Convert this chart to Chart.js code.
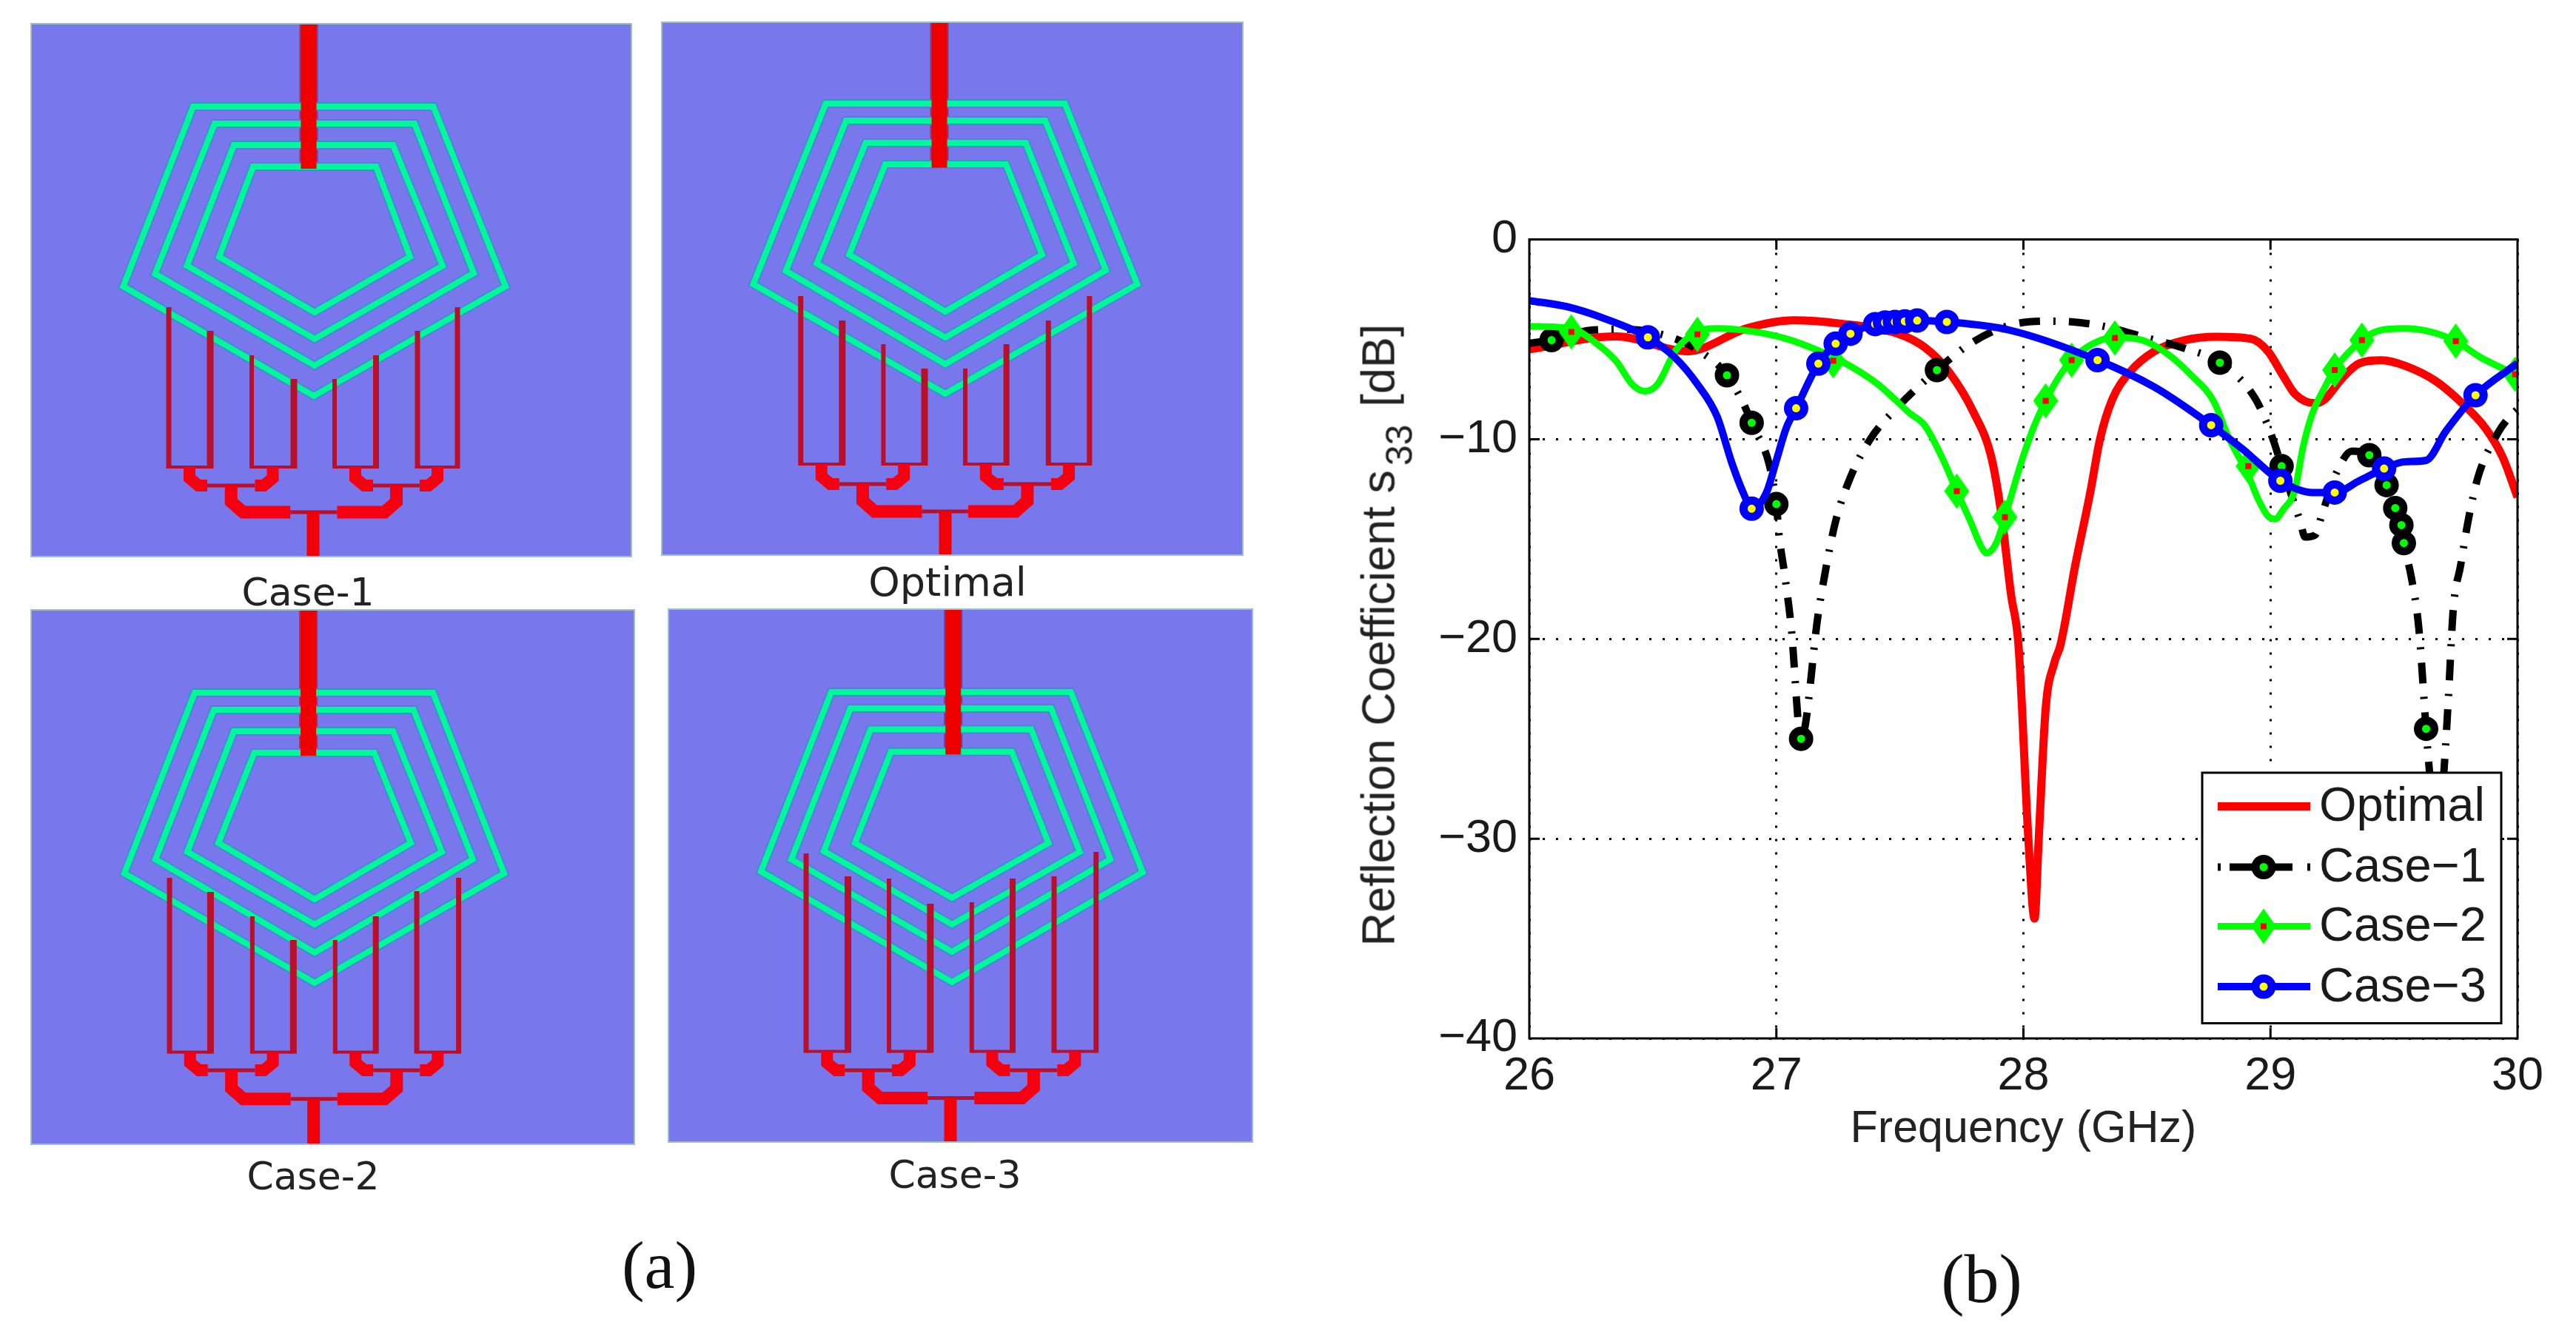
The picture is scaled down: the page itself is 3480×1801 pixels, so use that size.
<!DOCTYPE html>
<html>
<head>
<meta charset="utf-8">
<title>Reflection Coefficient s33</title>
<script src="https://cdn.jsdelivr.net/npm/chart.js@4/dist/chart.umd.min.js"></script>
<style>
  html, body { margin: 0; padding: 0; background: #fff; width: 3480px; height: 1801px; overflow: hidden; }
  .panel { position: absolute; background: #7878EC; box-shadow: 0 0 0 2px #9cc0c6; filter: blur(0.7px); }
  .panel canvas { display: block; }
  #plotBox { position: absolute; left: 1800px; top: 250px; width: 1680px; height: 1313px; filter: blur(0.7px); }
  .caption { position: absolute; transform: translateX(-50%); font-family: "DejaVu Sans", sans-serif; color: #222; white-space: nowrap; line-height: 1; filter: blur(0.6px); }
  .figlabel { position: absolute; transform: translateX(-50%); font-family: "Liberation Serif", serif; color: #111; white-space: nowrap; line-height: 1; filter: blur(0.6px); }
  #yTitle { position: absolute; left: 1862px; top: 858px; transform: translate(-50%, -50%) rotate(-90deg); font: 63px/1 "Liberation Sans", sans-serif; color: #222; white-space: nowrap; filter: blur(0.6px); }
  #yTitle span { font-size: 50px; position: relative; top: 24px; margin-left: 6px; margin-right: 24px; }
</style>
</head>
<body>
<div id="plotBox"><canvas id="grafico" width="1680" height="1313"></canvas></div>
<div id="yTitle">Reflection Coefficient s<span>33</span>[dB]</div>
<script>
// ---- reflection plot: values ----
const freqTicks = [26, 27, 28, 29, 30];
const dbTicks = [0, -10, -20, -30, -40];
const legendLabels = ['Optimal', 'Case\u22121', 'Case\u22122', 'Case\u22123'];

const freqOptimal = [26, 26.35, 26.64, 26.88, 27.07, 27.25, 27.5, 27.6, 27.7, 27.8, 27.87, 27.91, 27.95, 27.98, 28.02, 28.045, 28.062, 28.09, 28.125, 28.15, 28.21, 28.27, 28.31, 28.36, 28.43, 28.53, 28.65, 28.78, 28.92, 28.99, 29.05, 29.1, 29.18, 29.22, 29.29, 29.36, 29.45, 29.55, 29.67, 29.78, 29.87, 29.94, 30];
const dbOptimal = [-5.5, -4.85, -5.6, -4.45, -4.05, -4.2, -4.75, -5.4, -6.65, -8.7, -10.9, -13.7, -17.8, -20.3, -30, -34, -30, -23.5, -21.2, -20.3, -16.3, -12.7, -10, -8, -6.65, -5.6, -5.05, -4.87, -4.97, -5.6, -6.8, -7.75, -8.2, -8, -6.95, -6.2, -6.05, -6.35, -7.1, -8.25, -9.45, -10.9, -12.9];

const freqCase1 = [26, 26.09, 26.26, 26.4, 26.59, 26.69, 26.8, 26.9, 27, 27.01, 27.035, 27.06, 27.1, 27.17, 27.2, 27.24, 27.3, 27.38, 27.49, 27.65, 27.78, 27.94, 28.12, 28.31, 28.49, 28.66, 28.795, 28.94, 29.01, 29.045, 29.12, 29.14, 29.18, 29.21, 29.27, 29.33, 29.4, 29.47, 29.505, 29.53, 29.54, 29.57, 29.6, 29.63, 29.65, 29.67, 29.69, 29.705, 29.72, 29.74, 29.77, 29.8, 29.84, 29.92, 29.97, 30];
const dbCase1 = [-5.2, -5.04, -4.53, -4.5, -4.97, -5.6, -6.8, -9.18, -13.25, -14.7, -16.9, -19.4, -25, -18.7, -16.5, -14.1, -11.9, -10, -8.4, -6.54, -5.26, -4.31, -4.09, -4.31, -4.9, -5.48, -6.17, -8, -10, -11.35, -14.1, -14.9, -14.8, -13.7, -11.6, -10.6, -10.8, -12.3, -13.45, -14.3, -15.2, -16.9, -19.4, -24.5, -27.5, -29, -28.5, -26.1, -23, -18.5, -16.3, -14.1, -11.9, -9.7, -8.85, -8.5];
const markFreqCase1 = [26.09, 26.8, 26.9, 27, 27.1, 27.65, 28.795, 29.045, 29.4, 29.47, 29.505, 29.53, 29.54, 29.63];
const markDbCase1 = [-5.04, -6.8, -9.18, -13.25, -25, -6.54, -6.17, -11.35, -10.8, -12.3, -13.45, -14.3, -15.2, -24.5];

const freqCase2 = [26, 26.17, 26.27, 26.35, 26.42, 26.47, 26.52, 26.59, 26.67, 26.76, 26.9, 27.04, 27.17, 27.26, 27.41, 27.54, 27.6, 27.67, 27.73, 27.785, 27.83, 27.85, 27.89, 27.925, 27.99, 28.04, 28.09, 28.14, 28.195, 28.275, 28.37, 28.48, 28.58, 28.68, 28.77, 28.83, 28.91, 28.95, 28.99, 29.02, 29.05, 29.1, 29.13, 29.17, 29.22, 29.26, 29.37, 29.44, 29.54, 29.64, 29.75, 29.85, 30];
const dbCase2 = [-4.35, -4.46, -5.19, -6.07, -7.3, -7.6, -7.24, -5.6, -4.68, -4.46, -4.6, -4.97, -5.56, -6.07, -7.24, -8.7, -9.3, -10.9, -12.6, -14.1, -15.4, -15.7, -15.2, -13.9, -11.2, -9.45, -8.08, -6.95, -6.04, -5.26, -4.9, -5.04, -5.7, -6.8, -8.1, -9.9, -11.8, -13, -13.85, -14, -13.55, -12.5, -10.5, -8.7, -7.4, -6.5, -5.04, -4.56, -4.46, -4.6, -5.09, -5.9, -6.8];
const markFreqCase2 = [26.17, 26.68, 27.23, 27.73, 27.925, 28.09, 28.195, 28.37, 28.91, 29.26, 29.37, 29.75, 29.99];
const markDbCase2 = [-4.63, -4.75, -6.07, -12.6, -13.9, -8.08, -6.04, -4.93, -11.35, -6.54, -5.04, -5.09, -6.75];

const freqCase3 = [26, 26.15, 26.3, 26.48, 26.59, 26.68, 26.76, 26.82, 26.87, 26.9, 26.96, 27, 27.04, 27.08, 27.17, 27.24, 27.3, 27.4, 27.48, 27.57, 27.69, 27.94, 28.3, 28.53, 28.76, 28.885, 29.04, 29.17, 29.26, 29.36, 29.46, 29.545, 29.63, 29.71, 29.83, 30];
const dbCase3 = [-3.06, -3.36, -3.94, -4.9, -5.92, -7.24, -8.86, -11.2, -12.8, -13.48, -12.67, -11.06, -9.44, -8.45, -6.22, -5.22, -4.72, -4.24, -4.13, -4.06, -4.13, -4.53, -6.04, -7.39, -9.3, -10.47, -12.08, -12.67, -12.67, -12.08, -11.47, -11.13, -11.06, -9.6, -7.8, -6.2];
const markFreqCase3 = [26.48, 26.9, 27.08, 27.17, 27.24, 27.3, 27.4, 27.44, 27.48, 27.52, 27.57, 27.69, 28.3, 28.76, 29.04, 29.26, 29.46, 29.83];
const markDbCase3 = [-4.9, -13.48, -8.45, -6.22, -5.22, -4.72, -4.24, -4.16, -4.13, -4.1, -4.06, -4.13, -6.04, -9.3, -12.08, -12.67, -11.47, -7.8];

// ---- antenna layouts, in page pixels of each panel ----
const ringsCase1 = [
  [[261,144],[585.5,144],[683,387],[424,535],[166.5,387]],
  [[290,167],[560,167],[640,369],[425,494],[209.5,370]],
  [[316,196],[531,196],[598,359],[425,458],[252.6,359]],
  [[342,225],[508,225],[554,347],[425,422],[296,347]]
];
const ringsOptimal = [
  [[1115.6,140],[1438.5,140],[1536.4,384],[1277,532],[1017.6,384]],
  [[1143,163],[1412,163],[1494,365],[1277,492],[1061.6,366]],
  [[1169.6,193],[1385.6,193],[1450.7,356],[1277,456],[1103.4,356]],
  [[1196,222],[1359,222],[1407.8,344],[1277,421],[1147.3,344]]
];
const ringsCase2 = [
  [[263,936],[585,936],[681,1180],[425,1328],[168,1180]],
  [[289,959],[558.7,959],[638.7,1161],[425,1287],[210,1161]],
  [[316,988],[531,988],[597,1151],[425,1249],[253,1151]],
  [[343.6,1017],[505.5,1017],[555,1139],[425,1215],[295,1139]]
];
const ringsCase3 = [
  [[1123,935],[1446.6,935],[1543.7,1178.6],[1286,1327],[1028,1177.5]],
  [[1148.8,957],[1420,957],[1500,1161],[1286,1286],[1069,1161]],
  [[1176,985.5],[1393,985.5],[1458.7,1151],[1286,1249],[1113,1150]],
  [[1203.6,1015.7],[1367,1015.7],[1416.5,1139],[1286,1213],[1155,1139]]
];

const panels = [
  { id: 'Case-1', left: 43, right: 852, top: 33, bottom: 751, rings: ringsCase1,
    lineX: [228,284,340,397,452,508,564,618], lineTop: [415,447,480,512,512,480,447,415],
    yA: 631, yB: 656, yC: 692, cx: 423, topX: 417, topEnd: 228,
    captionX: 416, captionTop: 774, captionSize: 52 },
  { id: 'Optimal', left: 895, right: 1678, top: 31, bottom: 749, rings: ringsOptimal,
    lineX: [1081.7,1137.8,1193.4,1249,1304,1359.6,1416.3,1471.8], lineTop: [400,433,465,498,498,465,433,400],
    yA: 627, yB: 654, yC: 691, cx: 1277, topX: 1269, topEnd: 226.6,
    captionX: 1280, captionTop: 760, captionSize: 54 },
  { id: 'Case-2', left: 43, right: 856, top: 825, bottom: 1545, rings: ringsCase2,
    lineX: [229,284.4,340.9,396.3,452.8,507.7,563,619.6], lineTop: [1186,1205,1238,1270,1270,1238,1204,1186],
    yA: 1421.6, yB: 1446, yC: 1484.7, cx: 423.7, topX: 416.6, topEnd: 1021,
    captionX: 423, captionTop: 1563, captionSize: 52 },
  { id: 'Case-3', left: 904, right: 1691, top: 824, bottom: 1542, rings: ringsCase3,
    lineX: [1089,1145.5,1201,1256.8,1312.8,1368,1424,1480.7], lineTop: [1153,1184,1187,1221,1219,1187,1184,1151],
    yA: 1420.5, yB: 1446, yC: 1483.6, cx: 1284, topX: 1287.7, topEnd: 1019.5,
    captionX: 1290, captionTop: 1561, captionSize: 52 }
];
const lineWidths = [7, 9, 6, 9, 6, 8, 7, 7];

function pares(xs, ys) { return xs.map((x, i) => ({ x: x, y: ys[i] })); }
function ptos(lista) { return lista.map(p => ({ x: p[0], y: p[1] })); }

function trilha(lista, largura, cor) {
  return { data: ptos(lista), showLine: true, borderColor: cor, borderWidth: largura, pointRadius: 0,
    tension: 0, borderJoinStyle: 'miter', borderCapStyle: 'butt', fill: false };
}

function montarPainel(p) {
  const ds = [];
  // red network first in the array = on top
  ds.push(trilha([[p.topX, p.top], [p.topX, p.topEnd]], 21, '#EE0000'));
  ds.push(trilha([[p.cx, p.yC], [p.cx, p.bottom]], 17, '#F20008'));
  const m = [0, 2, 4, 6].map(i => (p.lineX[i] + p.lineX[i + 1]) / 2);
  const dir = [1, -1, 1, -1];
  m.forEach((mx, i) => {
    ds.push(trilha([[mx, p.yA], [mx, p.yB - 10], [mx + dir[i] * 12, p.yB], [mx + dir[i] * 24, p.yB]], 16, '#F50010'));
  });
  const g0 = (m[0] + m[1]) / 2, g1 = (m[2] + m[3]) / 2;
  ds.push(trilha([[g0, p.yB], [g0, p.yC - 14], [g0 + 16, p.yC], [g0 + 80, p.yC]], 17, '#F50010'));
  ds.push(trilha([[g1, p.yB], [g1, p.yC - 14], [g1 - 16, p.yC], [g1 - 80, p.yC]], 17, '#F50010'));
  ds.push(trilha([[g0 + 80, p.yC], [g1 - 80, p.yC]], 5, '#B8102A'));
  ds.push(trilha([[m[0] + 24, p.yB], [m[1] - 24, p.yB]], 5, '#B8102A'));
  ds.push(trilha([[m[2] + 24, p.yB], [m[3] - 24, p.yB]], 5, '#B8102A'));
  p.lineX.forEach((x, i) => {
    ds.push(trilha([[x, p.lineTop[i]], [x, p.yA + 2]], lineWidths[i], '#B8102A'));
  });
  [0, 2, 4, 6].forEach(i => ds.push(trilha([[p.lineX[i], p.yA], [p.lineX[i + 1], p.yA]], 4, '#B8102A')));
  // green rings with the bluish rim under them
  p.rings.forEach(r => {
    ds.push(trilha(r.concat([r[0], r[1]]), 8, '#00F79A'));
  });
  p.rings.forEach(r => {
    ds.push(trilha(r.concat([r[0], r[1]]), 12, '#4A86D8'));
  });
  ds.push(trilha([[p.topX, p.top], [p.topX, p.topEnd]], 25, '#8A3A78'));
  return ds;
}

panels.forEach(p => {
  const w = p.right - p.left, h = p.bottom - p.top;
  const box = document.createElement('div');
  box.className = 'panel';
  box.style.cssText = `left:${p.left}px;top:${p.top}px;width:${w}px;height:${h}px`;
  const cv = document.createElement('canvas');
  cv.width = w; cv.height = h;
  box.appendChild(cv);
  document.body.appendChild(box);
  new Chart(cv.getContext('2d'), {
    type: 'scatter',
    data: { datasets: montarPainel(p) },
    options: {
      responsive: false, animation: false, devicePixelRatio: 1,
      layout: { padding: 0 },
      plugins: { legend: { display: false }, tooltip: { enabled: false } },
      scales: {
        x: { type: 'linear', display: false, min: p.left, max: p.right },
        y: { type: 'linear', display: false, reverse: true, min: p.top, max: p.bottom }
      }
    }
  });
  const cap = document.createElement('div');
  cap.className = 'caption';
  cap.textContent = p.id;
  cap.style.cssText = `left:${p.captionX}px;top:${p.captionTop}px;font-size:${p.captionSize}px`;
  document.body.appendChild(cap);
});

[['(a)', 891, 1663, 92], ['(b)', 2677, 1680, 94]].forEach(f => {
  const d = document.createElement('div');
  d.className = 'figlabel';
  d.textContent = f[0];
  d.style.cssText = `left:${f[1]}px;top:${f[2]}px;font-size:${f[3]}px`;
  document.body.appendChild(d);
});

// ---- marker for Case-2: tall green diamond, red centre ----
function marcadorLosango() {
  const c = document.createElement('canvas');
  c.width = 34; c.height = 48;
  const g = c.getContext('2d');
  g.fillStyle = '#00FF00';
  g.beginPath(); g.moveTo(17, 0); g.lineTo(34, 24); g.lineTo(17, 48); g.lineTo(0, 24); g.closePath(); g.fill();
  g.fillStyle = '#FF0000';
  g.fillRect(13, 20, 8, 8);
  return c;
}
const losango = marcadorLosango();

const curvas = [
  { label: legendLabels[0], data: pares(freqOptimal, dbOptimal), borderColor: '#FF0000', borderWidth: 11, order: 80 },
  { label: legendLabels[1], data: pares(freqCase1, dbCase1), borderColor: '#000000', borderWidth: 10, borderDash: [28, 18, 3, 18], order: 60 },
  { label: legendLabels[2], data: pares(freqCase2, dbCase2), borderColor: '#00FF00', borderWidth: 9, order: 40 },
  { label: legendLabels[3], data: pares(freqCase3, dbCase3), borderColor: '#0000FF', borderWidth: 10, order: 20 }
].map(d => Object.assign(d, { pointRadius: 0, cubicInterpolationMode: 'monotone', fill: false, showLine: true }));

const marcas = [
  { data: pares(markFreqCase1, markDbCase1), pointStyle: 'circle', pointRadius: 11, pointBorderWidth: 11, pointBorderColor: '#000000', pointBackgroundColor: '#00FF00', order: 50 },
  { data: pares(markFreqCase2, markDbCase2), pointStyle: losango, order: 30 },
  { data: pares(markFreqCase3, markDbCase3), pointStyle: 'circle', pointRadius: 11, pointBorderWidth: 11, pointBorderColor: '#0000FF', pointBackgroundColor: '#FFFF00', order: 10 }
].map(d => Object.assign(d, { showLine: false }));

// frame with inward ticks, above the curves
const molduraPlugin = {
  id: 'moldura',
  afterDatasetsDraw(chart) {
    const { ctx, chartArea: a, scales } = chart;
    ctx.save();
    ctx.strokeStyle = '#000'; ctx.lineWidth = 3; ctx.setLineDash([]);
    ctx.beginPath();
    freqTicks.slice(1, -1).forEach(v => {
      const x = scales.x.getPixelForValue(v);
      ctx.moveTo(x, a.bottom); ctx.lineTo(x, a.bottom - 14);
      ctx.moveTo(x, a.top); ctx.lineTo(x, a.top + 14);
    });
    dbTicks.slice(1, -1).forEach(v => {
      const y = scales.y.getPixelForValue(v);
      ctx.moveTo(a.left, y); ctx.lineTo(a.left + 14, y);
      ctx.moveTo(a.right, y); ctx.lineTo(a.right - 14, y);
    });
    ctx.stroke();
    ctx.strokeRect(a.left, a.top, a.right - a.left, a.bottom - a.top);
    ctx.restore();
  }
};

// legend box over the curves, bottom right of the axes
const legendaPlugin = {
  id: 'legenda',
  afterDraw(chart) {
    const { ctx, chartArea: a } = chart;
    const bx = a.right - 426, by = a.bottom - 359, bw = 404, bh = 338.5;
    const linhas = [45.5, 127.5, 207.5, 289];
    ctx.save();
    ctx.fillStyle = '#fff'; ctx.fillRect(bx, by, bw, bh);
    ctx.strokeStyle = '#000'; ctx.lineWidth = 3; ctx.strokeRect(bx, by, bw, bh);
    const x0 = bx + 21, x1 = bx + 146, xm = bx + 83;
    legendLabels.forEach((txt, i) => {
      const y = by + linhas[i];
      const c = curvas[i];
      ctx.strokeStyle = c.borderColor; ctx.lineWidth = c.borderWidth;
      ctx.setLineDash(i === 1 ? [4, 12, 85, 20, 4] : []);
      ctx.beginPath(); ctx.moveTo(x0, y); ctx.lineTo(x1, y); ctx.stroke();
      ctx.setLineDash([]);
      if (i === 1 || i === 3) {
        ctx.beginPath(); ctx.arc(xm, y, 11, 0, Math.PI * 2);
        ctx.fillStyle = i === 1 ? '#00FF00' : '#FFFF00'; ctx.fill();
        ctx.lineWidth = 11; ctx.strokeStyle = c.borderColor; ctx.stroke();
      } else if (i === 2) {
        ctx.drawImage(losango, xm - 17, y - 24);
      }
      ctx.fillStyle = '#1a1a1a';
      ctx.font = '65px "Liberation Sans", sans-serif';
      ctx.textBaseline = 'middle'; ctx.textAlign = 'left';
      ctx.fillText(txt, bx + 158, y + 2);
    });
    ctx.restore();
  }
};

function rotuloTick(v) { return v < 0 ? '\u2212' + Math.abs(v) : String(v); }

new Chart(document.getElementById('grafico').getContext('2d'), {
  type: 'scatter',
  data: { datasets: curvas.concat(marcas) },
  plugins: [molduraPlugin, legendaPlugin],
  options: {
    responsive: false, animation: false, devicePixelRatio: 1,
    layout: { padding: { top: 73.5, right: 79, left: 0, bottom: 0 } },
    plugins: { legend: { display: false }, tooltip: { enabled: false } },
    scales: {
      x: {
        type: 'linear', min: 26, max: 30,
        afterBuildTicks: ax => { ax.ticks = freqTicks.map(v => ({ value: v })); },
        afterFit: ax => { ax.height = 160; },
        grid: { color: '#000', lineWidth: 3, drawTicks: false },
        border: { display: false, dash: [3, 15] },
        ticks: { autoSkip: false, maxRotation: 0, padding: 14, color: '#1a1a1a', font: { family: '"Liberation Sans", sans-serif', size: 63 }, callback: rotuloTick },
        title: { display: true, text: 'Frequency (GHz)', color: '#222', font: { family: '"Liberation Sans", sans-serif', size: 61 }, padding: { top: 0, bottom: 0 } }
      },
      y: {
        type: 'linear', min: -40, max: 0,
        afterBuildTicks: ax => { ax.ticks = dbTicks.map(v => ({ value: v })); },
        afterFit: ax => { ax.width = 266; },
        grid: { color: '#000', lineWidth: 3, drawTicks: false },
        border: { display: false, dash: [3, 15] },
        ticks: { autoSkip: false, padding: 16, color: '#1a1a1a', font: { family: '"Liberation Sans", sans-serif', size: 63 }, callback: rotuloTick }
      }
    }
  }
});
</script>
</body>
</html>
